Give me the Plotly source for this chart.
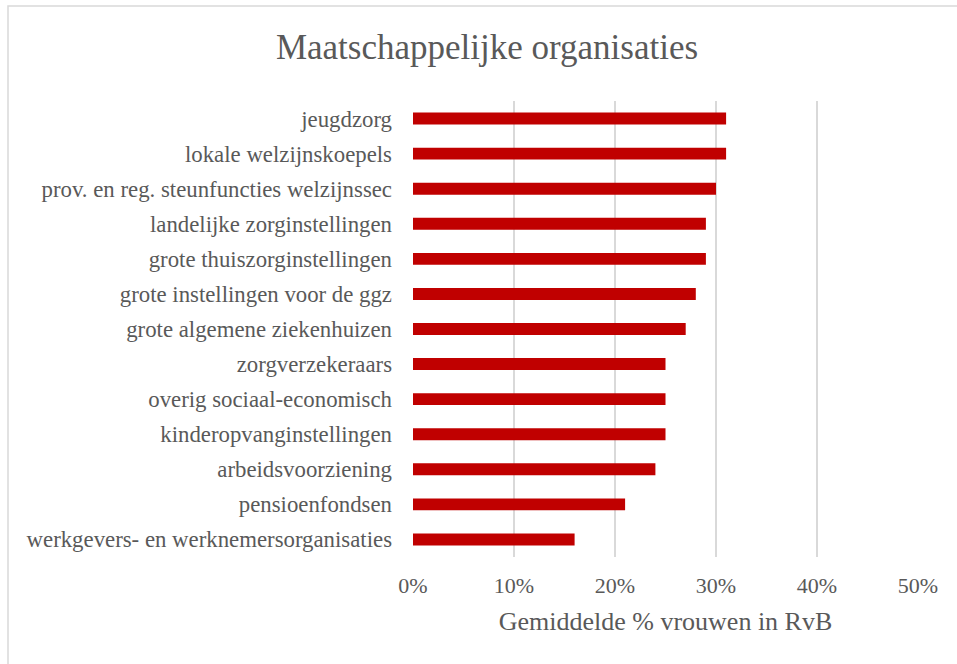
import plotly.graph_objects as go

categories = [
    "jeugdzorg",
    "lokale welzijnskoepels",
    "prov. en reg. steunfuncties welzijnssec",
    "landelijke zorginstellingen",
    "grote thuiszorginstellingen",
    "grote instellingen voor de ggz",
    "grote algemene ziekenhuizen",
    "zorgverzekeraars",
    "overig sociaal-economisch",
    "kinderopvanginstellingen",
    "arbeidsvoorziening",
    "pensioenfondsen",
    "werkgevers- en werknemersorganisaties",
]
values = [0.31, 0.31, 0.30, 0.29, 0.29, 0.28, 0.27, 0.25, 0.25, 0.25, 0.24, 0.21, 0.16]
x_ticks = [0, 0.1, 0.2, 0.3, 0.4, 0.5]
x_ticklabels = ["0%", "10%", "20%", "30%", "40%", "50%"]

W, H = 957, 664
L, R, T, B = 413, 39, 101, 107
pw, ph = W - L - R, H - T - B

FONT = "Liberation Serif"

fig = go.Figure(go.Bar(
    x=values,
    y=categories,
    orientation="h",
    marker=dict(color="#C00000", line=dict(width=0)),
    hoverinfo="x+y",
))

def px_to_paper_x(p):
    return (p - L) / pw

def px_to_paper_y(p):
    return (H - B - p) / ph

fig.update_layout(
    width=W, height=H,
    margin=dict(l=L, r=R, t=T, b=B),
    paper_bgcolor="white",
    plot_bgcolor="white",
    bargap=0.66,
    showlegend=False,
    title=dict(
        text="Maatschappelijke organisaties",
        x=487 / W, xanchor="center", xref="container",
        y=1 - 47 / H, yanchor="middle", yref="container",
        font=dict(family=FONT, size=35, color="#595959"),
    ),
    font=dict(family=FONT, color="#595959"),
    xaxis=dict(
        range=[0, 0.5],
        tickvals=x_ticks,
        ticktext=x_ticklabels,
        showgrid=True,
        gridcolor="#D9D9D9",
        gridwidth=1.5,
        zeroline=False,
        showline=False,
        ticks="",
        ticklabelstandoff=13,
        tickfont=dict(family=FONT, size=22, color="#595959"),
        title=dict(
            text="Gemiddelde % vrouwen in RvB",
            font=dict(family=FONT, size=26, color="#595959"),
            standoff=14,
        ),
        fixedrange=True,
    ),
    yaxis=dict(
        categoryorder="array",
        categoryarray=categories[::-1],
        showgrid=False,
        zeroline=False,
        showline=False,
        ticks="",
        ticklabelstandoff=20,
        tickfont=dict(family=FONT, size=22.8, color="#595959"),
        fixedrange=True,
    ),
    shapes=[
        dict(
            type="rect", xref="paper", yref="paper",
            x0=px_to_paper_x(8), x1=px_to_paper_x(970),
            y0=px_to_paper_y(680), y1=px_to_paper_y(6),
            line=dict(color="#D9D9D9", width=1.5),
            fillcolor="rgba(0,0,0,0)",
            layer="below",
        )
    ],
)

fig.write_html(
    "out.html",
    config={"displayModeBar": False},
    post_script="document.body.style.margin='0';document.body.style.overflow='hidden';",
)
